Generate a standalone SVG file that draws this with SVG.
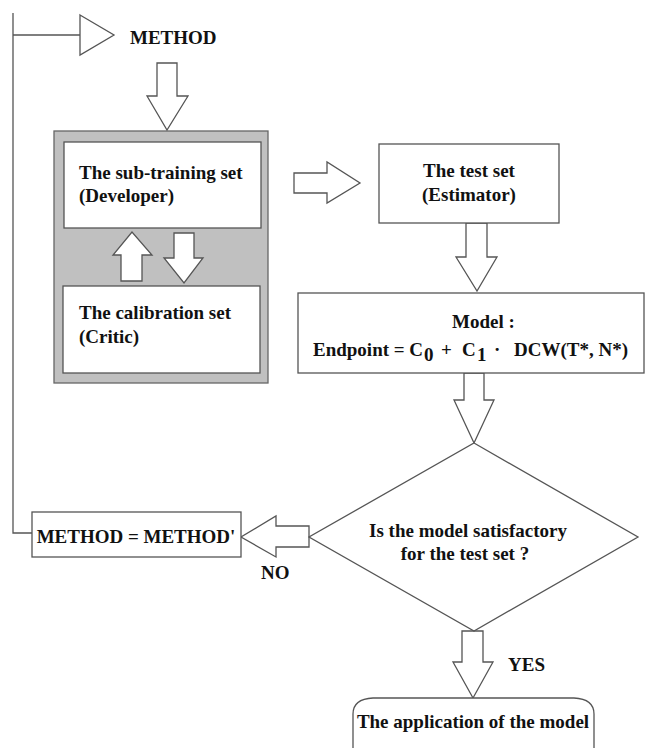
<svg xmlns="http://www.w3.org/2000/svg" width="646" height="748" viewBox="0 0 646 748">
<style>
  .ln { fill: none; stroke: #555; stroke-width: 1.3; }
  .box { fill: #fff; stroke: #555; stroke-width: 1.3; }
  .arr { fill: #fff; stroke: #555; stroke-width: 1.3; stroke-linejoin: miter; }
  .t { font-family: "Liberation Serif", "Times New Roman", serif; font-weight: bold; font-size: 19px; fill: #111; }
  .c { text-anchor: middle; }
</style>
<rect width="646" height="748" fill="#fff"/>

<g id="training-group">
  <rect x="54" y="131" width="214" height="252" fill="#c0c0c0" stroke="#666" stroke-width="1.3"/>
</g>

<g id="connectors">
  <!-- feedback loop line -->
  <polyline class="ln" points="32,533 13,533 13,13"/>
  <line class="ln" x1="13" y1="35" x2="80" y2="35"/>
  <!-- triangle into METHOD -->
  <polygon class="arr" points="80,15 114,35 80,55"/>
  <!-- METHOD down arrow -->
  <polygon class="arr" points="157,63 177,63 177,96 188,96 167,130 147,96 157,96"/>
  <!-- up arrow in gray box -->
  <polygon class="arr" points="121,281 142,281 142,255 152,255 132,232 113,255 121,255"/>
  <!-- down arrow in gray box -->
  <polygon class="arr" points="174,233 194,233 194,258 203,258 184,283 164,258 174,258"/>
  <!-- right arrow to test set -->
  <polygon class="arr" points="294,173 327,173 327,162 360,183 327,203 327,193 294,193"/>
  <!-- test set down arrow -->
  <polygon class="arr" points="466,223 487,223 487,257 497,257 477,291 456,257 466,257"/>
  <!-- model down arrow -->
  <polygon class="arr" points="464,373 484,373 484,400 494,400 474,443 454,400 464,400"/>
  <!-- NO arrow -->
  <polygon class="arr" points="309,526 276,526 276,516 241,537 276,557 276,547 309,547"/>
  <!-- YES arrow -->
  <polygon class="arr" points="462,631 483,631 483,662 493,662 473,698 453,662 462,662"/>
  <text class="t" x="261" y="579">NO</text>
  <text class="t" x="508" y="671">YES</text>
</g>

<g id="method">
  <text class="t" x="130" y="44">METHOD</text>
</g>

<g id="sub-training">
  <rect class="box" x="64" y="142" width="197" height="86"/>
  <text class="t" x="79" y="179">The sub-training set</text>
  <text class="t" x="79" y="202">(Developer)</text>
</g>

<g id="calibration">
  <rect class="box" x="63" y="286" width="197" height="87"/>
  <text class="t" x="79" y="319">The calibration set</text>
  <text class="t" x="79" y="343">(Critic)</text>
</g>

<g id="test-set">
  <rect class="box" x="379" y="144" width="180" height="79"/>
  <text class="t c" x="469" y="177">The test set</text>
  <text class="t c" x="469" y="201">(Estimator)</text>
</g>

<g id="model">
  <rect class="box" x="298" y="293" width="346" height="80"/>
  <text class="t" x="452" y="328">Model :</text>
  <text class="t" x="313" y="356">Endpoint = C</text>
  <text class="t" x="424" y="361">0</text>
  <text class="t" x="441" y="356">+</text>
  <text class="t" x="462" y="356">C</text>
  <text class="t" x="477" y="361">1</text>
  <text class="t" x="494" y="356">·</text>
  <text class="t" x="514" y="356">DCW(T*, N*)</text>
</g>

<g id="decision">
  <polygon class="box" points="474,443 638,537 474,631 309,537"/>
  <text class="t c" x="468" y="537">Is the model satisfactory</text>
  <text class="t c" x="465" y="560">for the test set ?</text>
</g>

<g id="method-prime">
  <rect class="box" x="32" y="512" width="209" height="45"/>
  <text class="t c" x="136" y="543">METHOD = METHOD'</text>
</g>

<g id="application">
  <path class="box" d="M353,752 L353,714 Q353,699 373,698 L574,698 Q594,699 594,714 L594,752"/>
  <text class="t c" x="473" y="728">The application of the model</text>
</g>
</svg>
